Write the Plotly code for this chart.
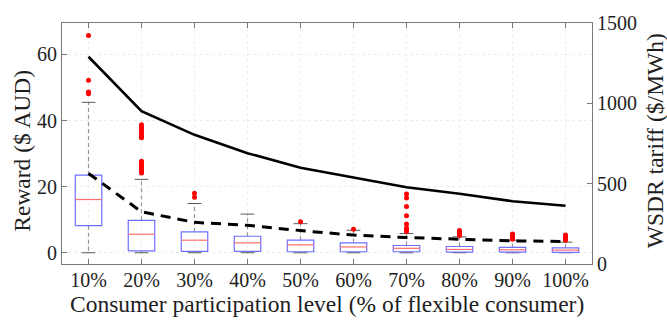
import plotly.graph_objects as go

categories = ["10%", "20%", "30%", "40%", "50%", "60%", "70%", "80%", "90%", "100%"]

# box statistics (Reward, $ AUD)
lower_whisker = [0.0, 0.0, 0.0, 0.0, 0.0, 0.0, 0.0, 0.0, 0.0, 0.0]
q1 = [8.2, 0.6, 0.4, 0.4, 0.3, 0.3, 0.3, 0.2, 0.2, 0.1]
median = [16.1, 5.6, 3.8, 3.0, 2.4, 1.75, 1.35, 1.0, 0.9, 0.8]
q3 = [23.5, 9.8, 6.3, 5.0, 3.8, 3.0, 2.2, 1.9, 1.6, 1.45]
upper_whisker = [45.5, 22.2, 14.9, 11.7, 8.8, 6.8, 5.8, 4.8, 3.8, 3.2]

outliers = [
    [65.7, 52.2, 48.6, 48.1],
    [38.7, 38.0, 37.2, 36.5, 35.8, 35.2, 34.8, 27.7, 27.0, 26.4, 25.8, 25.2, 24.6, 24.1],
    [18.0, 16.8],
    [],
    [9.4],
    [7.1],
    [17.8, 16.6, 14.0, 11.2, 8.7, 7.4, 6.8, 6.4],
    [6.7, 6.3, 5.9, 5.5, 5.2],
    [5.7, 5.3, 4.9, 4.5, 4.1],
    [5.4, 5.0, 4.6, 4.2, 3.8],
]

# dashed line (left axis)
dashed_values = [24.0, 12.4, 9.2, 8.3, 6.7, 5.35, 4.6, 4.1, 3.6, 3.4]
# WSDR tariff (right axis, $/MWh)
wsdr_tariff = [1290, 951, 804, 690, 599, 538, 478, 437, 391, 363]

x_title = "Consumer participation level (% of flexible consumer)"
y_title = "Reward ($ AUD)"
y2_title = "WSDR tariff ($/MWh)"

pos = list(range(1, len(categories) + 1))
hw = 0.25   # half box width
cw = 0.13   # half cap width

bx, by, mx, my, wx, wy, cx, cy, ox, oy = [], [], [], [], [], [], [], [], [], []
for i, p in enumerate(pos):
    bx += [p - hw, p + hw, p + hw, p - hw, p - hw, None]
    by += [q1[i], q1[i], q3[i], q3[i], q1[i], None]
    mx += [p - hw, p + hw, None]
    my += [median[i], median[i], None]
    wx += [p, p, None, p, p, None]
    wy += [q3[i], upper_whisker[i], None, q1[i], lower_whisker[i], None]
    cx += [p - cw, p + cw, None, p - cw, p + cw, None]
    cy += [upper_whisker[i], upper_whisker[i], None, lower_whisker[i], lower_whisker[i], None]
    for v in outliers[i]:
        ox.append(p)
        oy.append(v)

fig = go.Figure()
fig.add_trace(go.Scatter(x=wx, y=wy, mode="lines",
                         line=dict(color="rgb(150,150,150)", width=1.2, dash="4px,3px"),
                         showlegend=False, hoverinfo="skip"))
fig.add_trace(go.Scatter(x=cx, y=cy, mode="lines",
                         line=dict(color="rgb(90,90,90)", width=1),
                         showlegend=False, hoverinfo="skip"))
fig.add_trace(go.Scatter(x=bx, y=by, mode="lines",
                         line=dict(color="rgb(110,110,255)", width=1.2),
                         showlegend=False, hoverinfo="skip"))
fig.add_trace(go.Scatter(x=mx, y=my, mode="lines",
                         line=dict(color="rgb(255,110,110)", width=1.2),
                         showlegend=False, hoverinfo="skip"))
fig.add_trace(go.Scatter(x=ox, y=oy, mode="markers",
                         marker=dict(color="rgb(255,0,0)", size=5),
                         showlegend=False, hoverinfo="skip"))
fig.add_trace(go.Scatter(x=pos, y=dashed_values, mode="lines",
                         line=dict(color="black", width=3, dash="10px,7px"),
                         showlegend=False))
fig.add_trace(go.Scatter(x=pos, y=wsdr_tariff, mode="lines", yaxis="y2",
                         line=dict(color="black", width=2.6),
                         showlegend=False))

font_family = "Liberation Serif"
axis_color = "rgb(120,120,120)"
grid_color = "rgb(238,238,238)"
text_color = "rgb(30,30,30)"

fig.update_layout(
    width=667, height=323,
    margin=dict(l=62, r=75, t=16, b=59),
    paper_bgcolor="white", plot_bgcolor="white",
    font=dict(family=font_family, size=20, color=text_color),
    xaxis=dict(
        range=[0.5, 10.5],
        tickvals=pos, ticktext=categories,
        ticks="inside", ticklen=5, tickcolor=axis_color,
        showline=True, linecolor=axis_color, linewidth=1, mirror="ticks",
        showgrid=True, gridcolor=grid_color, griddash="dot", gridwidth=1,
        zeroline=False,
        tickfont=dict(size=20),
        ticklabelstandoff=-2,
    ),
    yaxis=dict(
        range=[-3.4, 69.5],
        tickvals=[0, 20, 40, 60],
        ticks="inside", ticklen=5, tickcolor=axis_color,
        showline=True, linecolor=axis_color, linewidth=1,
        showgrid=True, gridcolor=grid_color, griddash="dot", gridwidth=1,
        zeroline=False,
        tickfont=dict(size=20),
    ),
    yaxis2=dict(
        range=[0, 1500], overlaying="y", side="right",
        tickvals=[0, 500, 1000, 1500],
        ticks="inside", ticklen=5, tickcolor=axis_color,
        showline=True, linecolor=axis_color, linewidth=1,
        showgrid=False, zeroline=False,
        tickfont=dict(size=20),
    ),
    annotations=[
        dict(text=x_title, xref="paper", yref="paper", x=0.5, y=-0.165,
             showarrow=False, xanchor="center", yanchor="middle",
             font=dict(size=23.5, family=font_family, color=text_color)),
        dict(text=y_title, xref="paper", yref="paper", x=-0.0755, y=0.47,
             showarrow=False, xanchor="center", yanchor="middle", textangle=-90,
             font=dict(size=23.5, family=font_family, color=text_color)),
        dict(text=y2_title, xref="paper", yref="paper", x=1.119, y=0.51,
             showarrow=False, xanchor="center", yanchor="middle", textangle=-90,
             font=dict(size=23.5, family=font_family, color=text_color)),
    ],
)

fig.write_html("out.html",
               config={"displayModeBar": False},
               post_script="document.body.style.margin='0';document.body.style.overflow='hidden';")
